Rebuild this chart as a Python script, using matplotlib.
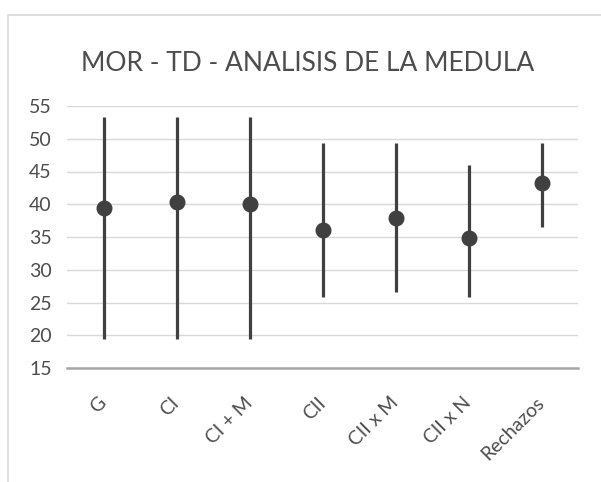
import matplotlib.pyplot as plt
from matplotlib.patches import Rectangle

categories = ["G", "CI", "CI + M", "CII", "CII x M", "CII x N", "Rechazos"]
means = [39.4, 40.4, 40.1, 36.0, 37.9, 34.8, 43.2]
highs = [53.3, 53.3, 53.3, 49.3, 49.3, 46.0, 49.3]
lows = [19.5, 19.5, 19.5, 25.9, 26.6, 25.9, 36.5]
yticks = [15, 20, 25, 30, 35, 40, 45, 50, 55]

W, H = 601, 482
fig = plt.figure(figsize=(W / 100, H / 100), dpi=100)
plt.rcParams['font.family'] = ['Lato', 'DejaVu Sans']

# chart frame (only left and top edges visible in the crop)
fig.patches.append(Rectangle((8 / W, -0.1), 1.2, (H - 15) / H + 0.1,
                             transform=fig.transFigure, fill=False,
                             edgecolor='#d9d9d9', linewidth=1.2))

ax = fig.add_axes([67 / W, (H - 368) / H, 511 / W, 262 / H])
x = list(range(len(categories)))

ax.vlines(x, lows, highs, color='#404040', linewidth=2.3, zorder=3)
ax.plot(x, means, 'o', color='#404040', markersize=10.5, zorder=4)

ax.set_xlim(-0.5, len(categories) - 0.5)
ax.set_ylim(15, 55)
ax.set_yticks(yticks)
ax.grid(axis='y', color='#d9d9d9', linewidth=1.0)
ax.set_axisbelow(True)
for s in ['top', 'right', 'left']:
    ax.spines[s].set_visible(False)
ax.spines['bottom'].set_color('#a6a6a6')
ax.spines['bottom'].set_linewidth(1.8)
ax.spines['bottom'].set_zorder(2)

ax.tick_params(axis='both', length=0, labelcolor='#4d4d4d')
ax.tick_params(axis='y', pad=11, labelsize=14)
ax.set_xticks(x)
ax.set_xticklabels(categories, rotation=45, ha='right', va='center',
                   rotation_mode='anchor')
ax.tick_params(axis='x', pad=23, labelsize=14)

fig.text(0.512, 0.868, "MOR - TD - ANALISIS DE LA MEDULA", ha='center',
         va='center', fontsize=19, color='#4d4d4d')

fig.savefig('out.png', dpi=100)
